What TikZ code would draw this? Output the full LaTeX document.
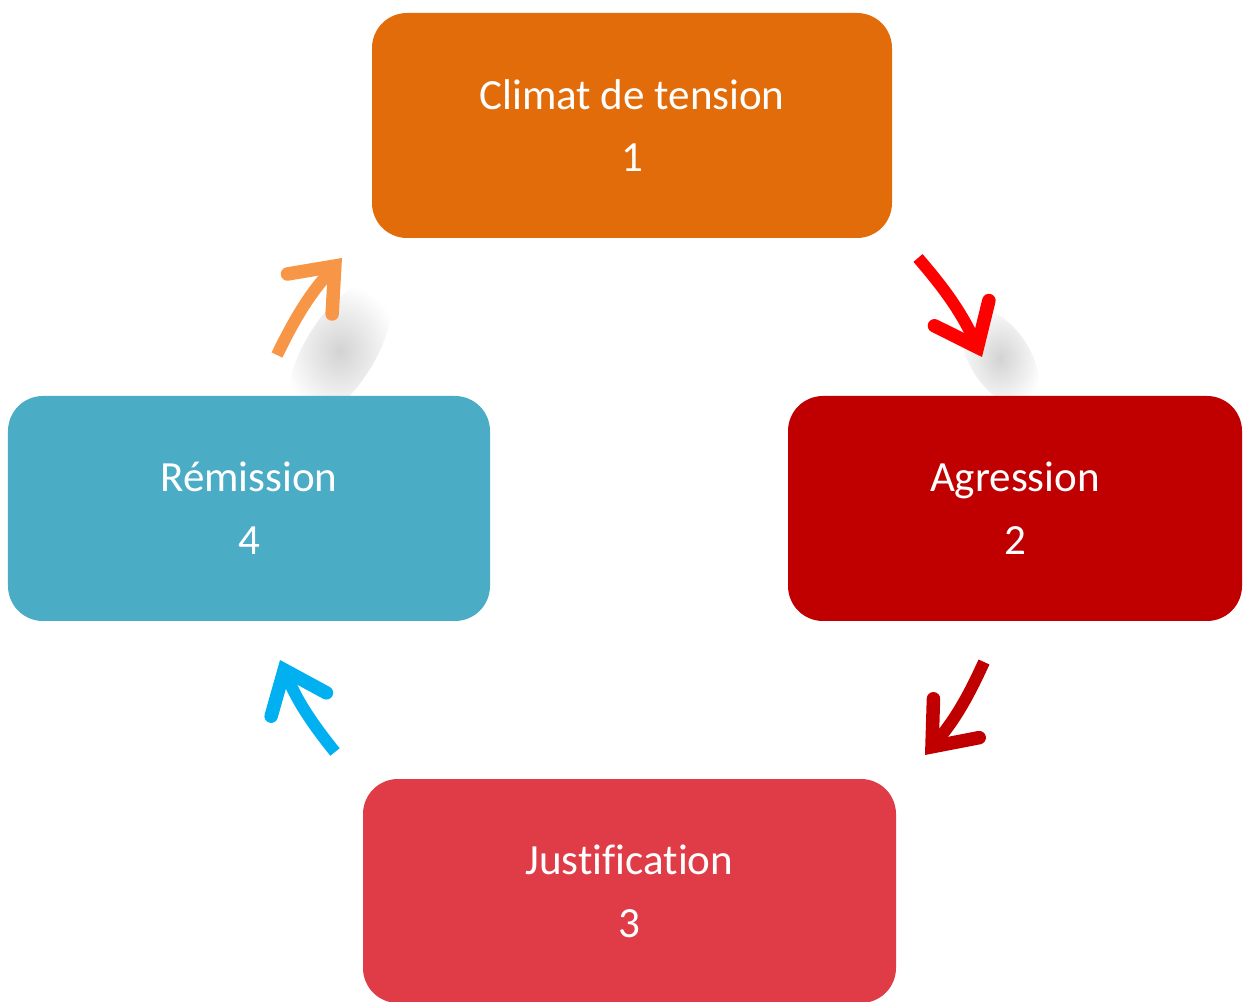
\documentclass[tikz,border=0pt]{standalone}
\usepackage{fontspec}
\setmainfont{Carlito}[Ligatures=CommonOff]
\usetikzlibrary{arrows.meta,fadings}
\definecolor{tensionorange}{HTML}{E36C0A}
\definecolor{agressionred}{HTML}{C00000}
\definecolor{justifred}{HTML}{E03C48}
\definecolor{remissionblue}{HTML}{4BACC6}
\definecolor{arroworange}{HTML}{F79646}
\definecolor{arrowred}{HTML}{FF0000}
\definecolor{arrowblue}{HTML}{00B0F0}
\tikzfading[name=softspot, inner color=transparent!0, outer color=transparent!100]
\begin{document}
\begin{tikzpicture}[
  phase/.style={rounded corners=0.7cm, minimum height=4.5cm, align=center, text=white,
    font=\fontsize{24.5}{35.7}\selectfont},
  cyclearrow/.style={line width=0.24cm, bend left=8,
    -{Straight Barb[length=0.75cm,width=1.2cm,line width=0.27cm,line cap=round,line join=miter]}},
  blur/.style={fill=gray, opacity=0.35, path fading=softspot, fit fading=true}
]
\useasboundingbox (0,0) rectangle (24.9,20.02);
% soft shadows behind the upper arrows
\fill[blur, rotate around={58:(6.8,13.0)}] (6.8,13.0) ellipse (1.6cm and 0.7cm);
\fill[blur, rotate around={-57:(20.0,12.86)}] (20.0,12.86) ellipse (1.1cm and 0.6cm);
% the four phases
\node[phase, fill=tensionorange, minimum width=10.4cm] (tension) at (12.64,17.51) {Climat de tension\\1};
\node[phase, fill=agressionred, minimum width=9.08cm] (agression) at (20.30,9.85) {Agression\\2};
\node[phase, fill=justifred, minimum width=10.66cm, minimum height=4.48cm] (justif) at (12.59,2.20) {Justification\\3};
\node[phase, fill=remissionblue, minimum width=9.64cm] (remission) at (4.98,9.85) {Rémission\\4};
% arrow ends
\coordinate (a1) at (18.36,14.86); \coordinate (b1) at (19.64,12.88);
\coordinate (a2) at (19.68,6.78);  \coordinate (b2) at (18.50,4.92);
\coordinate (a3) at (6.70,4.98);   \coordinate (b3) at (5.60,6.82);
\coordinate (a4) at (5.54,12.92);  \coordinate (b4) at (6.84,14.86);
\draw[cyclearrow, arrowred] (a1) to (b1);
\draw[cyclearrow, agressionred] (a2) to (b2);
\draw[cyclearrow, arrowblue] (a3) to (b3);
\draw[cyclearrow, arroworange] (a4) to (b4);
\end{tikzpicture}
\end{document}
